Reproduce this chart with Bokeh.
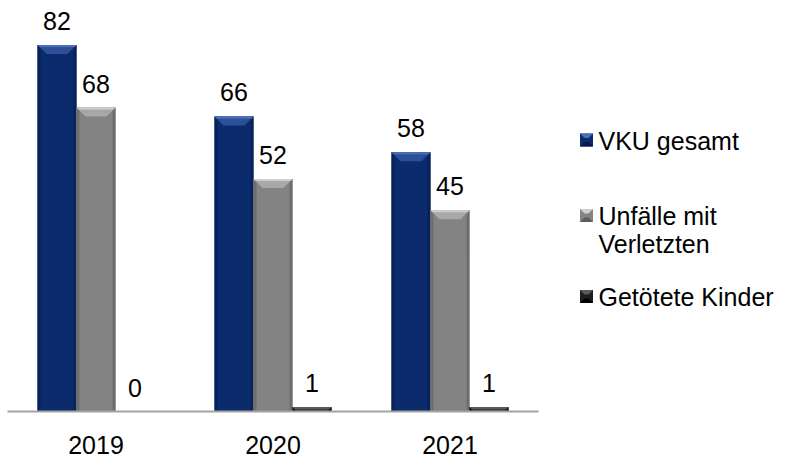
from bokeh.plotting import figure
from bokeh.models import Range1d
from bokeh.embed import file_html
from bokeh.resources import INLINE
from bokeh.core.properties import value

# ---------------- data ----------------
years = ["2019", "2020", "2021"]
series_labels = ["VKU gesamt", "Unfälle mit\nVerletzten", "Getötete Kinder"]
vku_gesamt = [82, 66, 58]
unfaelle_mit_verletzten = [68, 52, 45]
getoetete_kinder = [0, 1, 1]
series = [vku_gesamt, unfaelle_mit_verletzten, getoetete_kinder]

# ---------------- style ----------------
# (face, side shade, top bevel, top highlight, bottom shade)
palette = [
    ("#0b2b6c", "#08225a", "#2c4f98", "#4a70bb", "#061a45"),
    ("#838383", "#6e6e6e", "#a8a8a8", "#cfcfcf", "#5c5c5c"),
    ("#1e1e1e", "#101010", "#3a3a3a", "#5a5a5a", "#000000"),
]
FONT = "Liberation Sans"
FS = "25px"

W, H = 792, 459
BASE_PX = 411.0   # pixel row of value 0
CAT_PX = 177.0    # pixels per category
UNIT_PX = 4.47    # pixels per unit
CAT0_PX = 95.5    # pixel column of the first category centre
BAR_PX = 39.0


def x_at(px):
    return (px - CAT0_PX) / CAT_PX


def y_at(py):
    return (BASE_PX - py) / UNIT_PX


p = figure(width=W, height=H, output_backend="svg", toolbar_location=None,
           x_range=Range1d(x_at(0), x_at(W)), y_range=Range1d(y_at(H), y_at(0)),
           x_axis_location=None, y_axis_location=None, min_border=0,
           outline_line_color=None, background_fill_color="white",
           border_fill_color="white")
p.grid.visible = False

n = len(years)
bw = BAR_PX / CAT_PX
bev_y = 9.0 / UNIT_PX
bev_x = 9.0 / CAT_PX
hl_y = 2.0 / UNIT_PX
side_x = 3.0 / CAT_PX

for k, vals in enumerate(series):
    face, side, top, hl, bottom = palette[k]
    off = (k - (len(series) - 1) / 2) * bw
    centers = [i + off for i in range(n)]
    left = [c - bw / 2 for c in centers]
    right = [c + bw / 2 for c in centers]
    p.quad(left=left, right=right, bottom=0, top=vals, fill_color=face, line_color=None)
    p.quad(left=left, right=[l + side_x for l in left], bottom=0, top=vals,
           fill_color=side, line_color=None)
    p.quad(left=[r - side_x for r in right], right=right, bottom=0, top=vals,
           fill_color=side, line_color=None)
    xs, ys, hxs, hys = [], [], [], []
    for l, r, v in zip(left, right, vals):
        if v <= 0:
            continue
        h = min(bev_y, v)
        f = h / bev_y
        xs.append([l, r, r - bev_x * f, l + bev_x * f])
        ys.append([v, v, v - h, v - h])
        hh = min(hl_y, v)
        g = hh / bev_y
        hxs.append([l, r, r - bev_x * g, l + bev_x * g])
        hys.append([v, v, v - hh, v - hh])
    if xs:
        p.patches(xs, ys, fill_color=top, line_color=None)
        p.patches(hxs, hys, fill_color=hl, line_color=None)
    p.text(x=centers, y=vals, text=[str(v) for v in vals], text_font=value(FONT),
           text_font_size=FS, text_align="center", text_baseline="middle",
           y_offset=-24, text_color="#000000")

# baseline (category axis line)
p.segment(x0=[-0.5], y0=[0], x1=[n - 0.5], y1=[0], line_color="#a3a3a3", line_width=2)

# category labels
p.text(x=list(range(n)), y=[0] * n, text=years, text_font=value(FONT),
       text_font_size=FS, text_align="center", text_baseline="middle",
       y_offset=33, text_color="#000000")

# ---------------- legend ----------------
icon_cy = [139.5, 215.0, 296.0]   # pixel rows of legend icons
text_cy = [140.5, 215.5, 296.0]   # pixel rows of first label lines
LINE_PX = 28.0
icon_cx = 586.0
icon_half = 6.5
text_x = 598.0
hx = icon_half / CAT_PX
hy = icon_half / UNIT_PX
bx = 4.5 / CAT_PX
by = 4.5 / UNIT_PX
for k, lab in enumerate(series_labels):
    face, side, top, hl, bottom = palette[k]
    cx, cy = x_at(icon_cx), y_at(icon_cy[k])
    p.quad(left=[cx - hx], right=[cx + hx], bottom=[cy - hy], top=[cy + hy],
           fill_color=face, line_color=None)
    p.patches([[cx - hx, cx + hx, cx + hx - bx, cx - hx + bx]],
              [[cy + hy, cy + hy, cy + hy - by, cy + hy - by]], fill_color=hl, line_color=None)
    p.patches([[cx - hx, cx + hx, cx + hx - bx, cx - hx + bx]],
              [[cy - hy, cy - hy, cy - hy + by, cy - hy + by]], fill_color=bottom, line_color=None)
    lines = lab.split("\n")
    p.text(x=[x_at(text_x)] * len(lines),
           y=[y_at(text_cy[k] + j * LINE_PX) for j in range(len(lines))],
           text=lines, text_font=value(FONT), text_font_size=FS, text_align="left",
           text_baseline="middle", text_color="#000000")

open("out.html", "w").write(file_html(p, INLINE))
